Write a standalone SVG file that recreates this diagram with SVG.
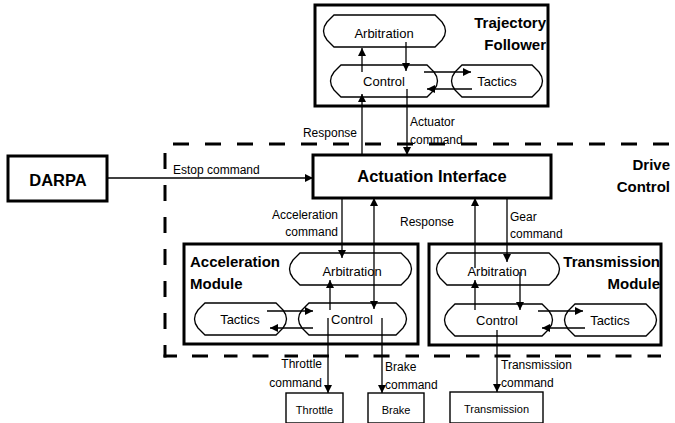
<svg xmlns="http://www.w3.org/2000/svg" width="675" height="423" viewBox="0 0 675 423">
  <style>
    text { font-family: "Liberation Sans", Arial, Helvetica, sans-serif; fill: #000; }
    .frame { fill: #fff; stroke: #000; stroke-width: 3; }
    .box { fill: #fff; stroke: #000; stroke-width: 1.4; }
    .node { fill: #fff; stroke: #000; stroke-width: 1.3; }
    .title { font-size: 15px; font-weight: bold; }
    .big { font-size: 16.5px; font-weight: bold; text-anchor: middle; }
    .ntext { font-size: 13px; text-anchor: middle; }
    .lbl { font-size: 12px; }
    .small { font-size: 11px; text-anchor: middle; }
    .end { text-anchor: end; }
    .mid { text-anchor: middle; }
    .arrow { fill: none; stroke: #000; stroke-width: 1.3; marker-end: url(#head); }
    .dash { fill: none; stroke: #000; stroke-width: 3; stroke-dasharray: 16 16; }
  </style>
  <defs>
    <marker id="head" viewBox="0 0 10 10" refX="10" refY="5" markerWidth="8" markerHeight="8" markerUnits="userSpaceOnUse" orient="auto">
      <path d="M0,0 L10,5 L0,10 Z" fill="#000"/>
    </marker>
  </defs>

  <!-- Drive Control boundary -->
  <g id="drive-control">
    <line class="dash" x1="173" y1="144" x2="675" y2="144"/>
    <line class="dash" x1="165" y1="153" x2="165" y2="357.5"/>
    <line class="dash" x1="163.5" y1="356" x2="675" y2="356" style="stroke-dasharray:13.5 15 16 16"/>
    <text class="title end" x="670" y="170">Drive</text>
    <text class="title end" x="670" y="192">Control</text>
  </g>

  <!-- Trajectory Follower -->
  <g id="trajectory-follower">
    <rect class="frame" x="315" y="5" width="233" height="101"/>
    <text class="title end" x="546" y="28">Trajectory</text>
    <text class="title end" x="546" y="50">Follower</text>
  </g>
  <g id="tf-arbitration">
    <path class="node" d="M334,15 H435 L442,22 Q449,31 442,40 L435,47 H334 L327,40 Q320,31 327,22 Z"/>
    <text class="ntext" x="384" y="37.5">Arbitration</text>
  </g>
  <g id="tf-control">
    <path class="node" d="M341,65 H427 L434,72 Q441,81 434,90 L427,97 H341 L334,90 Q327,81 334,72 Z"/>
    <text class="ntext" x="384" y="86">Control</text>
  </g>
  <g id="tf-tactics">
    <path class="node" d="M462,65 H532 L539,72 Q546,81 539,90 L532,97 H462 L455,90 Q448,81 455,72 Z"/>
    <text class="ntext" x="497" y="86">Tactics</text>
  </g>

  <!-- DARPA -->
  <g id="darpa">
    <rect class="frame" x="8" y="156" width="99" height="45"/>
    <text class="big" x="58" y="186">DARPA</text>
  </g>

  <!-- Actuation Interface -->
  <g id="actuation-interface">
    <rect class="frame" x="313" y="155" width="238" height="43"/>
    <text class="big" x="432" y="182">Actuation Interface</text>
  </g>

  <!-- Acceleration Module -->
  <g id="acceleration-module">
    <rect class="frame" x="184" y="244" width="234" height="100"/>
    <text class="title" x="190" y="267">Acceleration</text>
    <text class="title" x="190" y="289">Module</text>
  </g>
  <g id="acc-arbitration">
    <path class="node" d="M300,253 H401 L408,260 Q415,269 408,278 L401,285 H300 L293,278 Q286,269 293,260 Z"/>
    <text class="ntext" x="352" y="276">Arbitration</text>
  </g>
  <g id="acc-control">
    <path class="node" d="M309,303 H396 L403,310 Q410,319 403,328 L396,335 H309 L302,328 Q295,319 302,310 Z"/>
    <text class="ntext" x="352" y="324">Control</text>
  </g>
  <g id="acc-tactics">
    <path class="node" d="M205,303 H276 L283,310 Q290,319 283,328 L276,335 H205 L198,328 Q191,319 198,310 Z"/>
    <text class="ntext" x="240" y="324">Tactics</text>
  </g>

  <!-- Transmission Module -->
  <g id="transmission-module">
    <rect class="frame" x="429" y="244" width="232" height="101"/>
    <text class="title end" x="660" y="267">Transmission</text>
    <text class="title end" x="660" y="289">Module</text>
  </g>
  <g id="tr-arbitration">
    <path class="node" d="M447,253 H549 L556,260 Q563,269 556,278 L549,285 H447 L440,278 Q433,269 440,260 Z"/>
    <text class="ntext" x="497" y="276">Arbitration</text>
  </g>
  <g id="tr-control">
    <path class="node" d="M455,304 H542 L549,311 Q556,320 549,329 L542,336 H455 L448,329 Q441,320 448,311 Z"/>
    <text class="ntext" x="497" y="325">Control</text>
  </g>
  <g id="tr-tactics">
    <path class="node" d="M575,304 H646 L653,311 Q660,320 653,329 L646,336 H575 L568,329 Q561,320 568,311 Z"/>
    <text class="ntext" x="610" y="325">Tactics</text>
  </g>

  <!-- Actuators -->
  <g id="throttle">
    <rect class="box" x="286" y="393" width="57" height="30"/>
    <text class="small" x="314.5" y="414">Throttle</text>
  </g>
  <g id="brake">
    <rect class="box" x="368" y="393" width="56" height="30"/>
    <text class="small" x="396" y="414">Brake</text>
  </g>
  <g id="transmission">
    <rect class="box" x="450" y="392" width="93" height="31"/>
    <text class="small" x="496.5" y="413">Transmission</text>
  </g>

  <!-- Connectors -->
  <g id="connectors">
    <!-- trajectory follower internals -->
    <line class="arrow" x1="362" y1="72" x2="362" y2="48"/>
    <line class="arrow" x1="406" y1="42" x2="406" y2="71"/>
    <line class="arrow" x1="424" y1="72" x2="471" y2="72"/>
    <line class="arrow" x1="472" y1="89" x2="427" y2="89"/>
    <!-- follower to actuation interface -->
    <line class="arrow" x1="362" y1="155" x2="362" y2="94"/>
    <line class="arrow" x1="407" y1="89" x2="407" y2="155"/>
    <!-- estop -->
    <line class="arrow" x1="107" y1="178" x2="313" y2="178"/>
    <!-- acceleration module -->
    <line class="arrow" x1="342" y1="198" x2="342" y2="258"/>
    <line class="arrow" x1="374" y1="268" x2="374" y2="198"/>
    <line class="arrow" x1="374" y1="268" x2="374" y2="309"/>
    <line class="arrow" x1="330" y1="310" x2="330" y2="280"/>
    <line class="arrow" x1="267" y1="311" x2="313" y2="311"/>
    <line class="arrow" x1="313" y1="328" x2="270" y2="328"/>
    <line class="arrow" x1="328" y1="318" x2="328" y2="393"/>
    <line class="arrow" x1="382" y1="318" x2="382" y2="393"/>
    <!-- transmission module -->
    <line class="arrow" x1="507" y1="198" x2="507" y2="262"/>
    <line class="arrow" x1="475" y1="268" x2="475" y2="198"/>
    <line class="arrow" x1="475" y1="310" x2="475" y2="280"/>
    <line class="arrow" x1="520" y1="272" x2="520" y2="310"/>
    <line class="arrow" x1="538" y1="311" x2="583" y2="311"/>
    <line class="arrow" x1="585" y1="328" x2="542" y2="328"/>
    <line class="arrow" x1="497" y1="330" x2="497" y2="392"/>

    <!-- connector labels -->
    <text class="lbl end" x="357" y="137">Response</text>
    <text class="lbl" x="410" y="126">Actuator</text>
    <text class="lbl" x="410" y="144">command</text>
    <text class="lbl" x="173" y="174">Estop command</text>
    <text class="lbl end" x="338" y="219">Acceleration</text>
    <text class="lbl end" x="338" y="236">command</text>
    <text class="lbl mid" x="427" y="226">Response</text>
    <text class="lbl" x="510" y="221">Gear</text>
    <text class="lbl" x="510" y="238">command</text>
    <text class="lbl end" x="322" y="368">Throttle</text>
    <text class="lbl end" x="322" y="387">command</text>
    <text class="lbl" x="385" y="371">Brake</text>
    <text class="lbl" x="385" y="389">command</text>
    <text class="lbl" x="501" y="369">Transmission</text>
    <text class="lbl" x="501" y="387">command</text>
  </g>
</svg>
